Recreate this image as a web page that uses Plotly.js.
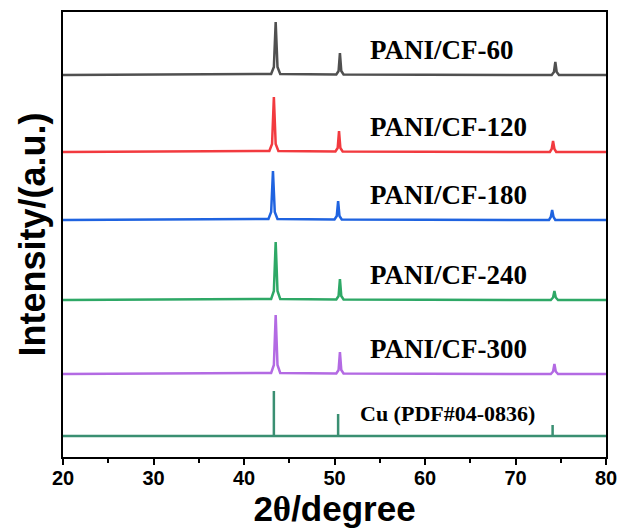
<!DOCTYPE html>
<html>
<head>
<meta charset="utf-8">
<script src="https://cdn.plot.ly/plotly-3.0.1.min.js"></script>
<style>
  html, body { margin: 0; padding: 0; background: #fff; }
  #chart { width: 621px; height: 529px; }
</style>
</head>
<body>
<div id="chart"></div>
<script>
// XRD patterns of PANI/CF samples, stacked with a vertical offset per sample.
const sampleNames = ['PANI/CF-60', 'PANI/CF-120', 'PANI/CF-180', 'PANI/CF-240', 'PANI/CF-300'];
const sampleColors = ['#505050', '#f23a3f', '#1f63e0', '#2ea866', '#b36ae3'];
const sampleOffsets = [382, 305, 237, 157, 83];

// 2θ positions and intensities (a.u.) of each pattern
const theta60  = [20, 43.0, 43.3, 43.5, 43.7, 44.0, 50.2, 50.45, 50.6, 50.75, 51.0, 74.0, 74.25, 74.4, 74.55, 74.8, 80];
const int60    = [0, 1, 8, 53, 8, 1, 0.5, 4, 22, 4, 0.5, 0, 3, 13, 3, 0, 0];
const theta120 = [20, 42.8, 43.1, 43.3, 43.5, 43.8, 50.1, 50.35, 50.5, 50.65, 50.9, 73.8, 74.0, 74.15, 74.3, 74.5, 80];
const int120   = [0, 1, 8, 55, 8, 1, 0.5, 4, 21, 4, 0.5, 0, 3, 11, 3, 0, 0];
const theta180 = [20, 42.7, 43.0, 43.2, 43.4, 43.7, 50.0, 50.25, 50.4, 50.55, 50.8, 73.7, 73.9, 74.05, 74.2, 74.4, 80];
const int180   = [0, 1, 8, 49, 8, 1, 0.5, 4, 19, 4, 0.5, 0, 3, 10, 3, 0, 0];
const theta240 = [20, 43.0, 43.3, 43.5, 43.7, 44.0, 50.2, 50.45, 50.6, 50.75, 51.0, 73.9, 74.15, 74.3, 74.45, 74.7, 80];
const int240   = [0, 1, 9, 58, 9, 1, 0.5, 4, 21, 4, 0.5, 0, 2.5, 9, 2.5, 0, 0];
const theta300 = [20, 43.0, 43.3, 43.5, 43.7, 44.0, 50.2, 50.45, 50.6, 50.75, 51.0, 73.9, 74.15, 74.3, 74.45, 74.7, 80];
const int300   = [0, 1, 9, 59, 9, 1, 0.5, 4, 22, 4, 0.5, 0, 2.5, 10, 2.5, 0, 0];

const sampleTheta = [theta60, theta120, theta180, theta240, theta300];
const sampleInt = [int60, int120, int180, int240, int300];

// Cu reference card (PDF#04-0836): stick positions and relative intensities
const cuName = 'Cu (PDF#04-0836)';
const cuColor = '#3a8f72';
const cuOffset = 21;
const cuTheta = [43.3, 50.4, 74.1];
const cuInt = [45, 22, 11];

const traces = [];
sampleNames.forEach((name, i) => {
  traces.push({
    type: 'scatter', mode: 'lines', name: name,
    x: sampleTheta[i],
    y: sampleInt[i].map(v => v + sampleOffsets[i]),
    line: { color: sampleColors[i], width: 2.5 },
    hoverinfo: 'x+name'
  });
});

// Stick pattern: baseline with vertical drops at each reflection
const cuX = [20], cuY = [cuOffset];
cuTheta.forEach((t, k) => {
  cuX.push(t, t, t);
  cuY.push(cuOffset, cuOffset + cuInt[k], cuOffset);
});
cuX.push(80); cuY.push(cuOffset);
traces.push({
  type: 'scatter', mode: 'lines', name: cuName,
  x: cuX, y: cuY,
  line: { color: cuColor, width: 2.5 },
  hoverinfo: 'x+name'
});

const serif = 'Liberation Serif, Times New Roman, serif';
const annotations = sampleNames.map((name, i) => ({
  x: 53.75, y: sampleOffsets[i] + 25, xref: 'x', yref: 'y',
  text: name, showarrow: false, xanchor: 'left', yanchor: 'middle',
  font: { family: serif, size: 27, color: '#000', weight: 'bold' }
}));
annotations.push({
  x: 52.6, y: cuOffset + 23, xref: 'x', yref: 'y',
  text: cuName, showarrow: false, xanchor: 'left', yanchor: 'middle',
  font: { family: serif, size: 22, color: '#000', weight: 'bold' }
});

const layout = {
  width: 621, height: 529,
  margin: { l: 63, r: 15, t: 12, b: 72 },
  paper_bgcolor: '#fff', plot_bgcolor: '#fff',
  showlegend: false,
  annotations: annotations,
  xaxis: {
    range: [20, 80], tickvals: [20, 30, 40, 50, 60, 70, 80],
    showgrid: false, zeroline: false,
    showline: true, mirror: true, linecolor: '#000', linewidth: 2,
    ticks: 'outside', ticklen: 6, tickwidth: 2, tickcolor: '#000',
    ticklabelstandoff: -4,
    minor: { dtick: 5, ticks: 'outside', ticklen: 4, tickwidth: 2, tickcolor: '#000' },
    tickfont: { family: 'Liberation Sans, Arial, sans-serif', size: 20, color: '#000', weight: 'bold' },
    title: {
      text: '2<span style="font-family:Liberation Serif, Times New Roman, serif">θ</span>/degree',
      font: { family: 'Liberation Sans, Arial, sans-serif', size: 35, color: '#000', weight: 'bold' },
      standoff: 4
    }
  },
  yaxis: {
    range: [0, 445],
    showgrid: false, zeroline: false, showticklabels: false, ticks: '',
    showline: true, mirror: true, linecolor: '#000', linewidth: 2,
    title: {
      text: 'Intensity/(a.u.)',
      font: { family: 'Liberation Sans, Arial, sans-serif', size: 36, color: '#000', weight: 'bold' },
      standoff: 4
    }
  }
};

Plotly.newPlot('chart', traces, layout, { displayModeBar: false, staticPlot: true });
</script>
</body>
</html>
